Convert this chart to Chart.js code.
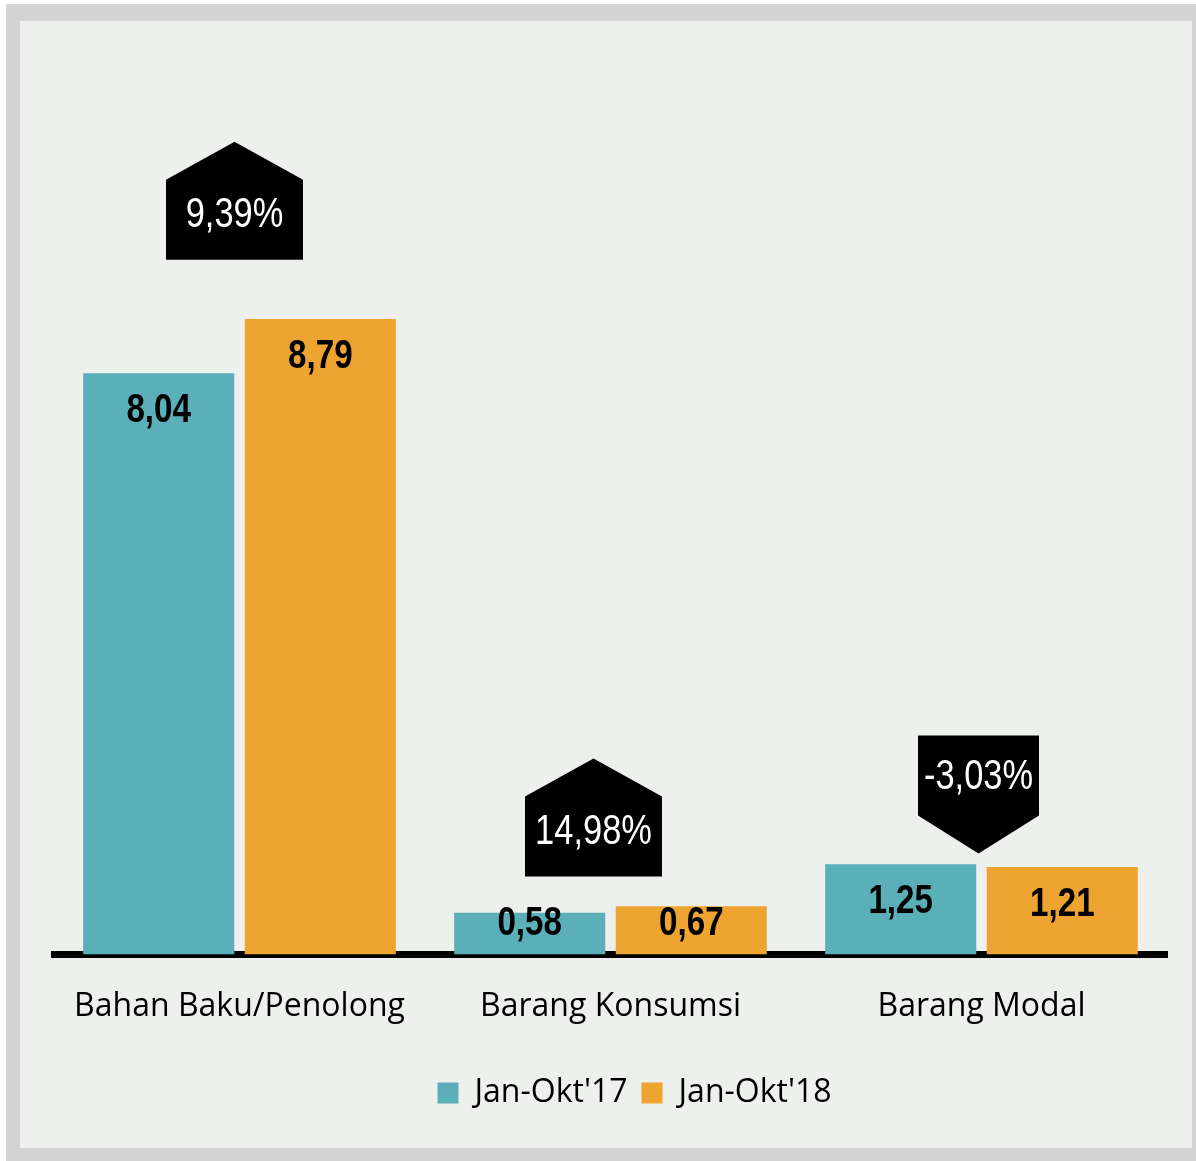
<!DOCTYPE html>
<html>
<head>
<meta charset="utf-8">
<script src="https://cdn.jsdelivr.net/npm/chart.js@4.4.0/dist/chart.umd.min.js"></script>
<style>
  html, body { margin: 0; padding: 0; background: #ffffff; }
  #panel {
    position: absolute; left: 6px; top: 4px;
    width: 1172px; height: 1127px;
    border-style: solid; border-color: #d3d3d3;
    border-width: 17px 4px 13px 14px;
    background: #eef0ee;
  }
  #wrap { position: relative; width: 1172px; height: 1127px; }
</style>
</head>
<body>
<div id="panel"><div id="wrap"><canvas id="chart"></canvas></div></div>

<script>
// data
var categories = ['Bahan Baku/Penolong', 'Barang Konsumsi', 'Barang Modal'];
var seriesNames = ["Jan-Okt'17", "Jan-Okt'18"];
var values2017 = [8.04, 0.58, 1.25];
var values2018 = [8.79, 0.67, 1.21];
var growthLabels = ['9,39%', '14,98%', '-3,03%'];

var teal = '#5aafb8';
var orange = '#eea431';
var sans = '"Liberation Sans", Arial, sans-serif';

function fmt(v) {
  return v.toFixed(2).replace('.', ',');
}

// no narrow font installed, so squeeze Liberation Sans like Arial Narrow
function narrowText(ctx, text, x, y, sx) {
  ctx.save();
  ctx.translate(x, y);
  ctx.scale(sx, 1);
  ctx.fillText(text, 0, 0);
  ctx.restore();
}

// value labels inside top of the bars
var barLabels = {
  id: 'barLabels',
  afterDatasetsDraw: function(chart) {
    var ctx = chart.ctx;
    ctx.save();
    ctx.fillStyle = '#000';
    ctx.font = 'bold 40px ' + sans;
    ctx.textAlign = 'center';
    ctx.textBaseline = 'middle';
    chart.data.datasets.forEach(function(ds, i) {
      chart.getDatasetMeta(i).data.forEach(function(bar, j) {
        var y = Math.min(bar.y + 38, bar.base - 31);
        narrowText(ctx, fmt(ds.data[j]), bar.x, y, 0.83);
      });
    });
    ctx.restore();
  }
};

// black arrow boxes with growth %
var growthBoxes = {
  id: 'growthBoxes',
  afterDraw: function(chart, args, opts) {
    var ctx = chart.ctx;
    var xs = chart.scales.x, ys = chart.scales.y;
    ctx.save();
    opts.items.forEach(function(it, i) {
      var cx = xs.getPixelForValue(i) + it.dx;
      var y = ys.getPixelForValue(it.at);
      var w = it.w / 2, rh = 80, ph = 38;
      var textY;
      ctx.fillStyle = '#000';
      ctx.beginPath();
      if (it.dir === 'up') {
        ctx.moveTo(cx - w, y);
        ctx.lineTo(cx + w, y);
        ctx.lineTo(cx + w, y - rh);
        ctx.lineTo(cx, y - rh - ph);
        ctx.lineTo(cx - w, y - rh);
        textY = y - rh / 2 - 4;
      } else {
        ctx.moveTo(cx, y);
        ctx.lineTo(cx + w, y - ph);
        ctx.lineTo(cx + w, y - ph - rh);
        ctx.lineTo(cx - w, y - ph - rh);
        ctx.lineTo(cx - w, y - ph);
        textY = y - ph - rh / 2 + 2;
      }
      ctx.closePath();
      ctx.fill();
      ctx.fillStyle = '#fff';
      ctx.font = '42px ' + sans;
      ctx.textAlign = 'center';
      ctx.textBaseline = 'middle';
      narrowText(ctx, growthLabels[i], cx, textY, 0.82);
    });
    ctx.restore();
  }
};

// the legend sits a bit right of centre and lower in the original
var legendShift = {
  id: 'legendShift',
  afterLayout: function(chart) {
    chart.legend.left += 24;
    chart.legend.right += 24;
    chart.legend.top += 4;
    chart.legend.bottom += 4;
  }
};

new Chart(document.getElementById('chart'), {
  type: 'bar',
  data: {
    labels: categories,
    datasets: [
      { label: seriesNames[0], data: values2017, backgroundColor: teal },
      { label: seriesNames[1], data: values2018, backgroundColor: orange }
    ]
  },
  options: {
    responsive: true,
    maintainAspectRatio: false,
    animation: false,
    categoryPercentage: 0.871,
    barPercentage: 0.935,
    layout: { padding: { left: 34, right: 25, top: 66, bottom: 33 } },
    scales: {
      x: {
        grid: { display: false, drawTicks: false, tickLength: 0 },
        border: { display: true, color: '#000', width: 7 },
        ticks: {
          color: '#000',
          padding: 33,
          font: { family: '"Open Sans", sans-serif', size: 32 }
        }
      },
      y: {
        display: false,
        min: 0,
        max: 12
      }
    },
    plugins: {
      tooltip: { enabled: false },
      legend: {
        position: 'bottom',
        labels: {
          color: '#000',
          boxWidth: 21,
          boxHeight: 21,
          padding: 14,
          font: { family: '"Open Sans", sans-serif', size: 32 }
        }
      },
      growthBoxes: {
        items: [
          { at: 9.61, dx: -5, w: 137, dir: 'up' },
          { at: 1.08, dx: -17, w: 137, dir: 'up' },
          { at: 1.40, dx: -3, w: 121, dir: 'down' }
        ]
      }
    }
  },
  plugins: [barLabels, growthBoxes, legendShift]
});
</script>
</body>
</html>
